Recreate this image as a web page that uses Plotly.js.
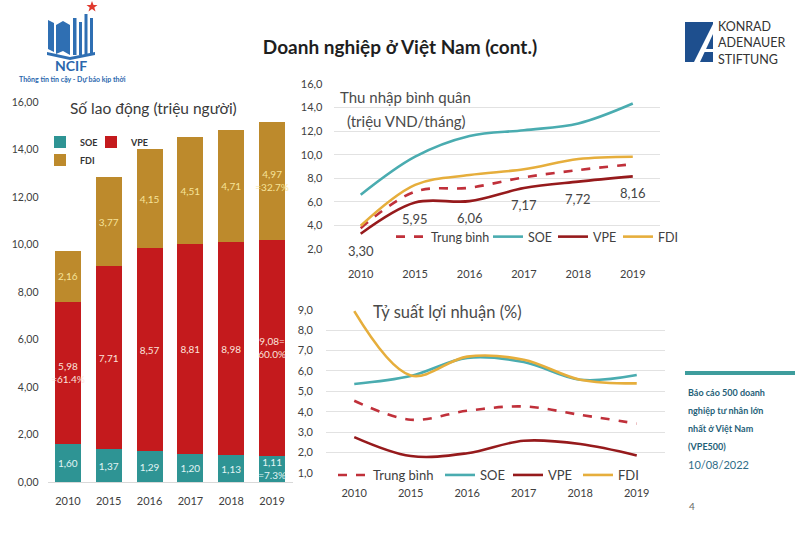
<!DOCTYPE html>
<html>
<head>
<meta charset="utf-8">
<script src="https://cdn.plot.ly/plotly-3.0.1.min.js"></script>
<style>html,body{margin:0;padding:0;background:#fff;}#chart{width:800px;height:533px;}</style>
</head>
<body>
<div id="chart"></div>
<script>
// ---------- data ----------
const years = ['2010', '2015', '2016', '2017', '2018', '2019'];

// Số lao động (triệu người)
const laborSOE = [1.60, 1.37, 1.29, 1.20, 1.13, 1.11];
const laborVPE = [5.98, 7.71, 8.57, 8.81, 8.98, 9.08];
const laborFDI = [2.16, 3.77, 4.15, 4.51, 4.71, 4.97];
const laborSOENote = ['', '', '', '', '', '<br>=7.3%'];
const laborVPENote = ['<br>=61.4%', '', '', '', '', '=<br>60.0%'];
const laborFDINote = ['', '', '', '', '', '<br>=32.7%'];

// Thu nhập bình quân (triệu VND/tháng)
const incomeAvg = [3.77, 6.87, 7.20, 8.08, 8.70, 9.20];
const incomeSOE = [6.60, 9.83, 11.58, 12.08, 12.65, 14.34];
const incomeVPE = [3.30, 5.95, 6.06, 7.17, 7.72, 8.16];
const incomeFDI = [3.97, 7.44, 8.28, 8.76, 9.63, 9.83];

// Tỷ suất lợi nhuận (%)
const profitAvg = [4.54, 3.61, 4.05, 4.26, 3.85, 3.42];
const profitSOE = [5.36, 5.75, 6.64, 6.44, 5.57, 5.80];
const profitVPE = [2.76, 1.83, 1.97, 2.58, 2.42, 1.86];
const profitFDI = [8.93, 5.78, 6.70, 6.55, 5.57, 5.39];

const seriesNames = ['Trung bình', 'SOE', 'VPE', 'FDI'];

// ---------- helpers ----------
const FONT = 'Lato, "Open Sans", sans-serif';
const fmt2 = v => v.toFixed(2).replace('.', ',');
const px = x => x / 800;
const py = y => 1 - y / 533;

const cBarSOE = '#2e9494', cBarVPE = '#c41a1d', cBarFDI = '#bd8a2c';
const cAvg = '#c0303a', cSOE = '#4aacb0', cVPE = '#961a1c', cFDI = '#e6ae3c';

function barTrace(name, vals, notes, color, txtColor, legend, lw) {
  return {
    type: 'bar', name: name, x: years, y: vals, xaxis: 'x', yaxis: 'y',
    marker: {color: color},
    text: vals.map((v, i) => fmt2(v) + notes[i]),
    textposition: 'inside', insidetextanchor: 'middle', constraintext: 'none', textangle: 0,
    textfont: {family: FONT, size: 10, color: txtColor},
    legend: legend, legendwidth: lw, hoverinfo: 'skip'
  };
}
function lineTrace(name, vals, color, dash, ax, legend, lw) {
  return {
    type: 'scatter', mode: 'lines', name: name, x: years, y: vals,
    xaxis: 'x' + ax, yaxis: 'y' + ax,
    line: {color: color, width: 2.6, shape: 'spline', dash: dash},
    legend: legend, legendwidth: lw, hoverinfo: 'skip'
  };
}

const traces = [
  barTrace('SOE', laborSOE, laborSOENote, cBarSOE, '#e2f4f4', 'legend', 6),
  barTrace('VPE', laborVPE, laborVPENote, cBarVPE, '#fbe3dc', 'legend', 16),
  barTrace('FDI', laborFDI, laborFDINote, cBarFDI, '#f7e49a', 'legend4', 16),
  lineTrace(seriesNames[0], incomeAvg, cAvg, 'dash', 2, 'legend2', 52),
  lineTrace(seriesNames[1], incomeSOE, cSOE, 'solid', 2, 'legend2', 20),
  lineTrace(seriesNames[2], incomeVPE, cVPE, 'solid', 2, 'legend2', 20),
  lineTrace(seriesNames[3], incomeFDI, cFDI, 'solid', 2, 'legend2', 20),
  lineTrace(seriesNames[0], profitAvg, cAvg, 'dash', 3, 'legend3', 62),
  lineTrace(seriesNames[1], profitSOE, cSOE, 'solid', 3, 'legend3', 23),
  lineTrace(seriesNames[2], profitVPE, cVPE, 'solid', 3, 'legend3', 25),
  lineTrace(seriesNames[3], profitFDI, cFDI, 'solid', 3, 'legend3', 25)
];

// ---------- annotations ----------
const annotations = [];
// VPE income labels (category index on xaxis2, value on yaxis2)
incomeVPE.forEach((v, i) => annotations.push({
  x: i, y: v, xref: 'x2', yref: 'y2', yshift: -17, showarrow: false,
  text: v.toFixed(2).replace('.', ','), font: {family: FONT, size: 13, color: '#454545'}
}));
function note(text, x, y, size, color, opts) {
  annotations.push(Object.assign({
    xref: 'paper', yref: 'paper', x: px(x), y: py(y), xanchor: 'left', yanchor: 'middle',
    showarrow: false, text: text, font: {family: FONT, size: size, color: color}
  }, opts || {}));
}
note('Số lao động (triệu người)', 68, 108, 15.5, '#3a3a3a');
note('Thu nhập bình quân', 338, 97, 15, '#4a4a4a');
note('(triệu VND/tháng)', 345, 121, 15, '#4a4a4a');
note('Tỷ suất lợi nhuận (%)', 371, 312, 16.5, '#4a4a4a');
// NCIF logo text
note('<b>NCIF</b>', 71, 66, 14, '#2b67ad', {xanchor: 'center'});
note('<b>Thông tin tin cậy - Dự báo kịp thời</b>', 72, 79, 7, '#2b67ad', {xanchor: 'center'});
// KAS logo text
note('KONRAD<br>ADENAUER<br>STIFTUNG', 716, 43, 12.5, '#333333', {align: 'left'});
// right panel
note('<b>Báo cáo 500 doanh</b>', 686, 392, 9, '#1f5f78');
note('<b>nghiệp tư nhân lớn</b>', 686, 410, 9, '#1f5f78');
note('<b>nhất ở Việt Nam</b>', 686, 428, 9, '#1f5f78');
note('<b>(VPE500)</b>', 686, 446, 9, '#1f5f78');
note('10/08/2022', 686, 464, 11, '#2f6d88');
note('4', 687, 506, 10, '#666666');

// ---------- shapes (logos/decor) ----------
const shapes = [];
function rect(x0, y0, x1, y1, color) {
  shapes.push({type: 'rect', xref: 'paper', yref: 'paper', x0: px(x0), x1: px(x1), y0: py(y1), y1: py(y0),
    fillcolor: color, line: {width: 0}, layer: 'above'});
}
function path(pts, color) {
  const d = pts.map((p, i) => (i ? 'L' : 'M') + px(p[0]) + ',' + py(p[1])).join(' ') + ' Z';
  shapes.push({type: 'path', xref: 'paper', yref: 'paper', path: d, fillcolor: color, line: {width: 0}, layer: 'above'});
}
// NCIF book icon
const blue = '#2f6fb3';
path([[48, 20], [54, 23], [54, 52], [48, 49]], blue);
path([[56, 25], [63, 21], [70, 25], [70, 55], [63, 51], [56, 54]], blue);
rect(73, 18, 76.5, 55, blue);
rect(79, 22, 82, 55, blue);
rect(84.5, 14, 87.5, 55, blue);
rect(90, 18, 93, 55, blue);
path([[47, 52], [70, 57], [95, 52], [95, 55], [70, 60], [47, 55]], blue);
path([[92, 1], [93.5, 5], [97.5, 5], [94.3, 7.5], [95.5, 11.5], [92, 9], [88.5, 11.5], [89.7, 7.5], [86.5, 5], [90.5, 5]], '#e03a2e');
// KAS logo
rect(685, 22, 713, 62, '#1e4f8e');
path([[694, 62], [713, 24], [713, 34], [700, 62]], '#ffffff');
rect(704, 49, 713, 52, '#ffffff');
// right teal bar
rect(685, 371, 795, 375, '#3e9d9d');

// ---------- layout ----------
const axisFont = {family: FONT, size: 11, color: '#404040'};
const layout = {
  width: 800, height: 533,
  margin: {l: 0, r: 0, t: 0, b: 0},
  paper_bgcolor: '#ffffff', plot_bgcolor: 'rgba(0,0,0,0)',
  separators: ',.',
  font: {family: FONT, color: '#404040'},
  barmode: 'stack', bargap: 0.36,
  showlegend: true,
  title: {text: '<b>Doanh nghiệp ở Việt Nam (cont.)</b>', x: 0.5, xanchor: 'center', y: py(47), yanchor: 'middle',
    font: {family: FONT, size: 19, color: '#1e1e1e'}},
  xaxis: {domain: [px(47.5), px(292.5)], anchor: 'y', type: 'category', range: [-0.5, 5.5],
    showline: true, linecolor: '#d9d9d9', linewidth: 1, ticks: '', ticklabelstandoff: 9,
    showgrid: false, tickfont: axisFont, fixedrange: true},
  yaxis: {domain: [py(482), py(102)], anchor: 'x', range: [0, 16], dtick: 2, tickformat: '.2f',
    showgrid: false, zeroline: false, ticks: '', ticklabelstandoff: 8, tickfont: {family: FONT, size: 10.5, color: '#404040'}},
  xaxis2: {domain: [px(333.5), px(660)], anchor: 'y2', type: 'category', range: [-0.5, 5.5],
    showline: false, ticks: '', ticklabelstandoff: 17, showgrid: false, tickfont: axisFont},
  yaxis2: {domain: [py(249), py(84)], anchor: 'x2', range: [2, 16], dtick: 2, tickformat: '.1f',
    showgrid: true, gridcolor: '#e2e2e2', gridwidth: 1, zeroline: false, ticks: '', ticklabelstandoff: 10,
    tickfont: axisFont},
  xaxis3: {domain: [px(326), px(665)], anchor: 'y3', type: 'category', range: [-0.5, 5.5],
    showline: false, ticks: '', ticklabelstandoff: 12, showgrid: false, tickfont: axisFont},
  yaxis3: {domain: [py(473), py(309.7)], anchor: 'x3', range: [1, 9], dtick: 1, tickformat: '.1f',
    showgrid: true, gridcolor: '#e2e2e2', gridwidth: 1, zeroline: false, ticks: '', ticklabelstandoff: 12,
    tickfont: axisFont},
  legend: {x: px(40), y: py(142), xanchor: 'left', yanchor: 'middle', orientation: 'h',
    bgcolor: 'rgba(255,255,255,0)', font: {family: FONT, size: 9, color: '#333', weight: 'bold'}, itemwidth: 30,
    traceorder: 'normal'},
  legend4: {x: px(40), y: py(160), xanchor: 'left', yanchor: 'middle', orientation: 'h',
    bgcolor: 'rgba(255,255,255,0)', font: {family: FONT, size: 9, color: '#333', weight: 'bold'}, itemwidth: 30},
  legend2: {x: px(391), y: py(237), xanchor: 'left', yanchor: 'middle', orientation: 'h',
    bgcolor: 'rgba(255,255,255,0)', font: {family: FONT, size: 12.5, color: '#404040'}, traceorder: 'normal'},
  legend3: {x: px(333), y: py(475), xanchor: 'left', yanchor: 'middle', orientation: 'h',
    bgcolor: 'rgba(255,255,255,0)', font: {family: FONT, size: 13, color: '#404040'}, traceorder: 'normal'},
  annotations: annotations,
  shapes: shapes
};

Plotly.newPlot('chart', traces, layout, {staticPlot: true, displayModeBar: false});
</script>
</body>
</html>
